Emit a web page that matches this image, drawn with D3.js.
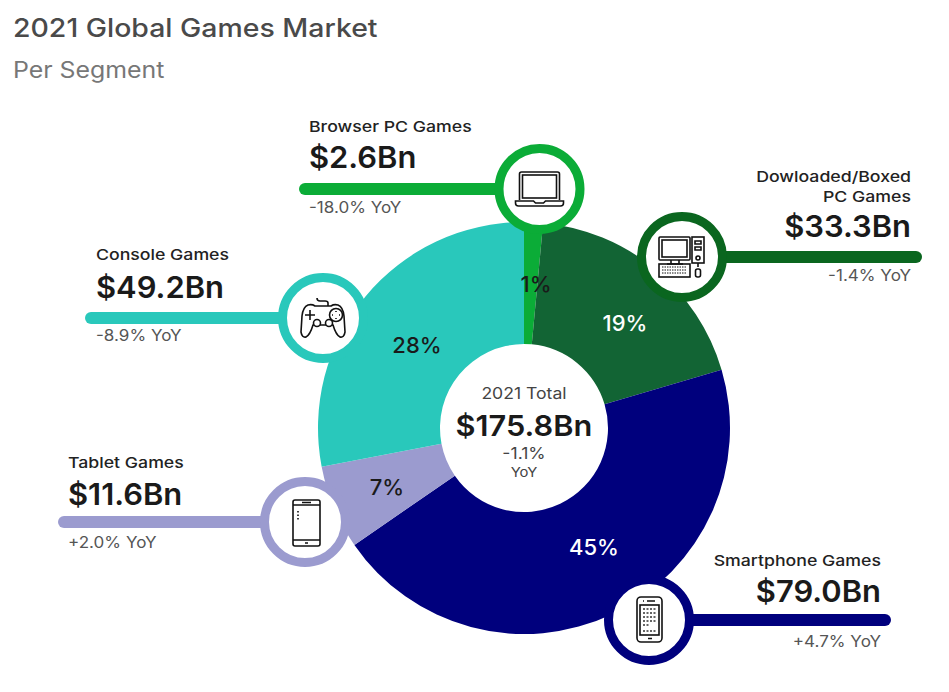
<!DOCTYPE html>
<html>
<head>
<meta charset="utf-8">
<script src="https://cdn.jsdelivr.net/npm/d3@7"></script>
<style>
  html, body { margin: 0; background: #fff; }
  text { font-family: Inter, "Open Sans", sans-serif; }
</style>
</head>
<body>
<svg id="chart" width="949" height="692"></svg>
<script>
// values
const segments = ["Browser PC Games", "Dowloaded/Boxed PC Games", "Smartphone Games", "Tablet Games", "Console Games"];
const revenue = [2.6, 33.3, 79.0, 11.6, 49.2];
const revenueLabels = ["$2.6Bn", "$33.3Bn", "$79.0Bn", "$11.6Bn", "$49.2Bn"];
const yoyLabels = ["-18.0% YoY", "-1.4% YoY", "+4.7% YoY", "+2.0% YoY", "-8.9% YoY"];
const shareLabels = ["1%", "19%", "45%", "7%", "28%"];

const sliceColors = ["#0bac37", "#126434", "#00007d", "#9b9bcf", "#29c8bb"];
const ringColors = ["#0bac37", "#0a661f", "#00007d", "#9b9bcf", "#29c8bb"];
const shareColors = ["#1a1a1a", "#fff", "#fff", "#1a1a1a", "#1a1a1a"];

// layout
const cx = 524, cy = 428, outerR = 206, innerR = 84;
const ringR = 40.5, ringW = 9;
const sharePos = [[536, 292], [625, 331], [594, 555], [387, 495], [417, 353]];
const callouts = [
  {ring: [539.5, 189], line: [305, 500], anchor: "start", x: 309, title: [132], value: 168, yoy: 213, icon: "laptop"},
  {ring: [682, 257], line: [725, 916], anchor: "end", x: 911, title: [182, 202], value: 237, yoy: 281, icon: "desktop"},
  {ring: [649, 620], line: [690, 885], anchor: "end", x: 881, title: [566], value: 602, yoy: 647, icon: "phone"},
  {ring: [305, 522], line: [64, 262], anchor: "start", x: 68, title: [468], value: 505, yoy: 548, icon: "tablet"},
  {ring: [323, 318], line: [91, 280], anchor: "start", x: 96, title: [260], value: 298, yoy: 341, icon: "gamepad"}
];

const svg = d3.select("#chart");

// the original face is wider than anything installed, so stretch the glyphs a bit
const stretch = (sel, k) => sel
  .attr("textLength", function() { return this.getComputedTextLength() * k; })
  .attr("lengthAdjust", "spacingAndGlyphs");

svg.append("text").attr("x", 13).attr("y", 37)
  .attr("font-size", 25.5).attr("font-weight", 500).attr("fill", "#4a4a4a")
  .text("2021 Global Games Market").call(stretch, 1.115);
svg.append("text").attr("x", 13).attr("y", 78)
  .attr("font-size", 22.5).attr("fill", "#777")
  .text("Per Segment").call(stretch, 1.105);

// donut
const pie = d3.pie().sort(null).value(d => d)(revenue);
const arc = d3.arc().innerRadius(innerR).outerRadius(outerR);

svg.append("g").attr("transform", `translate(${cx},${cy})`)
  .selectAll("path")
  .data(pie)
  .join("path")
  .attr("d", arc)
  .attr("fill", (d, i) => sliceColors[i]);

svg.append("g").selectAll("text")
  .data(shareLabels)
  .join("text")
  .attr("x", (d, i) => sharePos[i][0])
  .attr("y", (d, i) => sharePos[i][1])
  .attr("text-anchor", "middle")
  .attr("font-size", 22)
  .attr("font-weight", 500)
  .attr("fill", (d, i) => shareColors[i])
  .text(d => d);

// centre text
const centre = svg.append("g").attr("text-anchor", "middle");
centre.append("text").attr("x", cx).attr("y", 399).attr("font-size", 16).attr("fill", "#444").text("2021 Total").call(stretch, 1.1);
centre.append("text").attr("x", cx).attr("y", 436).attr("font-size", 29).attr("font-weight", 600).attr("fill", "#1a1a1a").text("$175.8Bn").call(stretch, 1.06);
centre.append("text").attr("x", cx).attr("y", 459).attr("font-size", 16).attr("fill", "#444").text("-1.1%").call(stretch, 1.1);
centre.append("text").attr("x", cx).attr("y", 477).attr("font-size", 13.5).attr("fill", "#444").text("YoY").call(stretch, 1.1);

// leader lines + rings
const group = svg.append("g").selectAll("g")
  .data(callouts)
  .join("g");

group.append("line")
  .attr("x1", d => d.line[0]).attr("x2", d => d.line[1])
  .attr("y1", d => d.ring[1]).attr("y2", d => d.ring[1])
  .attr("stroke", (d, i) => ringColors[i])
  .attr("stroke-width", 12)
  .attr("stroke-linecap", "round");

group.append("circle")
  .attr("cx", d => d.ring[0]).attr("cy", d => d.ring[1])
  .attr("r", ringR)
  .attr("fill", "#fff")
  .attr("stroke", (d, i) => ringColors[i])
  .attr("stroke-width", ringW);

// labels
group.each(function(d, i) {
  const g = d3.select(this).append("g").attr("text-anchor", d.anchor);
  const titleLines = d.title.length > 1 ? ["Dowloaded/Boxed", "PC Games"] : [segments[i]];
  titleLines.forEach((t, k) => {
    g.append("text").attr("x", d.x).attr("y", d.title[k])
      .attr("font-size", 15).attr("font-weight", 500).attr("fill", "#222").text(t).call(stretch, 1.18);
  });
  g.append("text").attr("x", d.x).attr("y", d.value)
    .attr("font-size", 30).attr("font-weight", 600).attr("fill", "#1a1a1a").text(revenueLabels[i]).call(stretch, 1.03);
  g.append("text").attr("x", d.x).attr("y", d.yoy)
    .attr("font-size", 15.5).attr("fill", "#555").text(yoyLabels[i]).call(stretch, 1.1);
});

// icons, all drawn around (0,0) of their ring
const icons = {
  laptop: g => {
    g.append("path").attr("d", "M-20,11 V-15 Q-20,-17 -18,-17 H18 Q20,-17 20,-15 V11");
    g.append("rect").attr("x", -17).attr("y", -14).attr("width", 34).attr("height", 23);
    g.append("path").attr("d", "M-24,12 H-6 L-4,14 H4 L6,12 H24 V14 Q24,17 21,17 H-21 Q-24,17 -24,14 Z");
  },
  desktop: g => {
    g.append("rect").attr("x", -23).attr("y", -20).attr("width", 31).attr("height", 23).attr("rx", 1);
    g.append("rect").attr("x", -20).attr("y", -17).attr("width", 25).attr("height", 17);
    g.append("path").attr("d", "M-11,3 V7 M-3,3 V7 M-15,7 H1");
    g.append("rect").attr("x", -23).attr("y", 7).attr("width", 31).attr("height", 13);
    g.append("path").attr("d", "M-20,10 H5 M-20,13 H5 M-20,16 H5").attr("stroke-dasharray", "1.5 1").attr("stroke-width", 1.2);
    g.append("rect").attr("x", 10).attr("y", -20).attr("width", 12).attr("height", 26);
    g.append("path").attr("d", "M13,-16 H19 V-13 H13 Z M13,-10 H19 V-7 H13 Z");
    g.append("circle").attr("cx", 16).attr("cy", 1).attr("r", 2);
    g.append("path").attr("d", "M16,6 V10");
    g.append("rect").attr("x", 13.5).attr("y", 12).attr("width", 5).attr("height", 8).attr("rx", 2);
  },
  phone: g => {
    g.append("rect").attr("x", -12).attr("y", -23).attr("width", 25).attr("height", 45).attr("rx", 4);
    g.append("rect").attr("x", -9).attr("y", -15).attr("width", 19).attr("height", 30);
    g.append("path").attr("d", "M-2,-19 H6 M-6,-19 H-5 M-1,18.5 H3");
    g.append("path").attr("d", "M-6,-11 H7 M-6,-7 H7 M-6,-3 H7 M-6,1 H7 M-6,5 H0 M-6,11 H7")
      .attr("stroke-dasharray", "2 1.5").attr("stroke-width", 1.4).attr("stroke", "#333");
  },
  tablet: g => {
    g.append("rect").attr("x", -12).attr("y", -22).attr("width", 27).attr("height", 46).attr("rx", 2);
    g.append("path").attr("d", "M-12,-17 H15 M-12,18 H15 M-3,-19.5 H6 M0,21 H3");
    g.append("path").attr("d", "M-7,-11 V-1").attr("stroke-dasharray", "1.5 2");
  },
  gamepad: g => {
    g.append("path").attr("d", "M-15,-13 Q-20,-11 -21,-2 L-22,14 Q-21,20 -17,19 Q-13,17 -10,7 H10 Q13,17 17,19 Q21,20 22,14 L21,-2 Q20,-11 15,-13 Q11,-14 8,-12 H-8 Q-11,-14 -15,-13 Z");
    g.append("path").attr("d", "M-18,-3 H-8 M-13,-8 V2");
    g.append("circle").attr("cx", -6).attr("cy", 5).attr("r", 3.5).attr("fill", "#fff");
    g.append("circle").attr("cx", 6).attr("cy", 5).attr("r", 3.5).attr("fill", "#fff");
    g.append("circle").attr("cx", 13).attr("cy", -3).attr("r", 6.5).attr("fill", "#fff");
    g.append("path").attr("d", "M13,-7 V-6 M13,0 V1 M9,-3 H10 M16,-3 H17");
    g.append("path").attr("d", "M5,-12 V-15 Q5,-17 2,-17 H-3 Q-6,-17 -6,-20");
  }
};

group.append("g")
  .attr("transform", d => `translate(${d.ring[0]},${d.ring[1]})`)
  .attr("fill", "none")
  .attr("stroke", "#111")
  .attr("stroke-width", 1.6)
  .each(function(d) { icons[d.icon](d3.select(this)); });
</script>
</body>
</html>
